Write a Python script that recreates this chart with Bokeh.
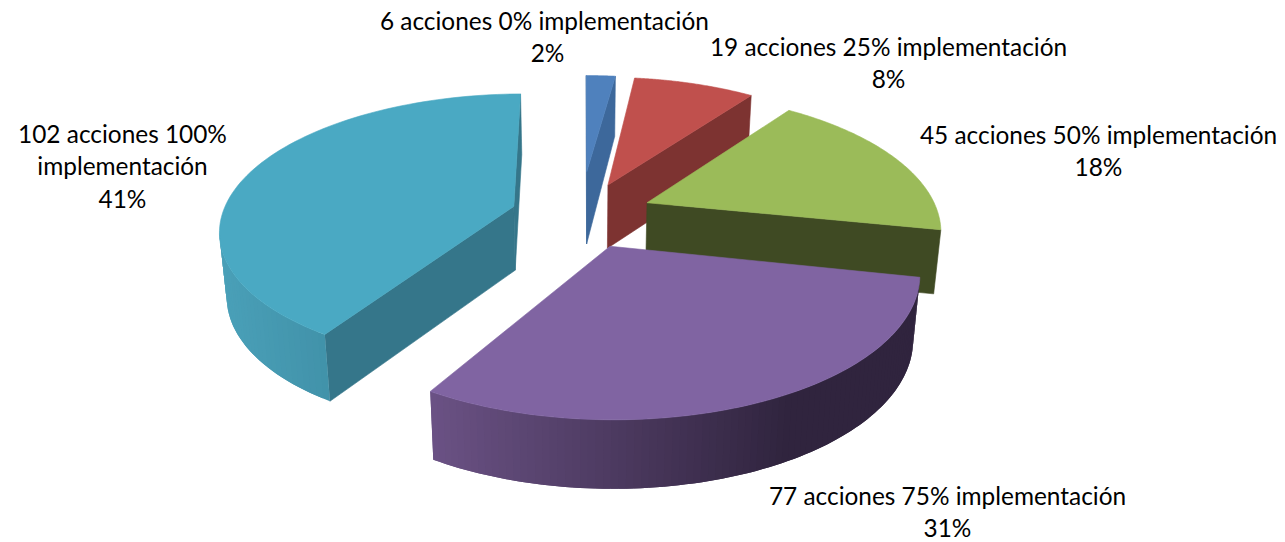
import numpy as np
from bokeh.plotting import figure
from bokeh.models import Range1d
from bokeh.core.properties import value
from bokeh.embed import file_html
from bokeh.resources import INLINE

# --- data ---
acciones = [6, 19, 45, 77, 102]
top_colors = ["#4f81bd", "#c0504d", "#9bbb59", "#8064a2", "#4aa9c3"]
cut_colors = ["#3d689b", "#7d3331", "#3f4a23", "#4d3c62", "#35768a"]
wall_left = ["#3d689b", "#8a3a38", "#5a6e33", "#6b5285", "#4aa0b8"]
wall_right = ["#3d689b", "#7d3331", "#3f4a23", "#30243e", "#38849b"]
label_lines = [
    ["6 acciones 0%  implementación", "2%"],
    ["19 acciones 25% implementación", "8%"],
    ["45 acciones 50% implementación", "18%"],
    ["77 acciones 75% implementación", "31%"],
    ["102 acciones 100%", "implementación", "41%"],
]
label_x = [547, 888, 1098, 947, 122]
label_y = [20, 46, 134, 495, 133]
draw_order = [4, 0, 1, 2, 3]

# --- projection of the tilted pie ---
CX, CY_RIM, CY_APEX = 581.0, 225.0, 215.0
K, P, R, EXPLODE, DEPTH, SHRINK = 0.46, 0.00037, 300.0, 71.0, 64.0, 0.98
CAM_Y = -1.0 / P
# small per-slice corrections to the ideal projection (start, end of each slice)
turn_start = [0.0, -2.2, -2.6, -3.0, 2.7]
turn_end = [-2.2, -2.6, -4.5, 0.0, 0.0]
radius_start = [0.98, 0.98, 0.98, 1.0, 0.97]
radius_end = [0.98, 0.98, 0.98, 1.0, 1.0]
apex_shift = [-12.0, -1.0, -1.0, 0.0, 0.0]
apex_depth = [9.0, 0.0, 0.0, 0.0, 0.0]


def proj(X, Y, y0):
    X, Y = np.asarray(X, float), np.asarray(Y, float)
    f = 1.0 / (1.0 + P * Y)
    return CX + X * f, y0 - K * Y * f, f


def lower(sx, sy, f):
    return CX + (sx - CX) * SHRINK, sy + DEPTH * (0.5 + 0.5 * f)


total = sum(acciones)
bounds = np.concatenate([[0.0], np.cumsum(acciones) / total * 2 * np.pi])

xs_all, ys_all, fills, line_alphas = [], [], [], []


def add(xs, ys, c, stroke=1.0):
    xs_all.append(list(map(float, xs)))
    ys_all.append(list(map(float, ys)))
    fills.append(c)
    line_alphas.append(stroke)


def mix(a, b, t):
    ca = [int(a[i:i + 2], 16) for i in (1, 3, 5)]
    cb = [int(b[i:i + 2], 16) for i in (1, 3, 5)]
    return "#%02x%02x%02x" % tuple(int(round(u + (v - u) * t)) for u, v in zip(ca, cb))


for i in draw_order:
    a0, a1 = bounds[i], bounds[i + 1]
    mid = (a0 + a1) / 2
    ox, oy = EXPLODE * np.sin(mid), EXPLODE * np.cos(mid)
    th = np.linspace(a0, a1, 90)
    u = np.linspace(0, 1, 90)
    wt = th + np.radians(turn_start[i] + (turn_end[i] - turn_start[i]) * u)
    rr = R * (radius_start[i] + (radius_end[i] - radius_start[i]) * u)
    X = ox + rr * np.sin(wt)
    Y = oy + R * np.cos(wt) * (rr / R if i == 4 else 1.0)
    sx, sy, f = proj(X, Y, CY_RIM)
    lx, ly = lower(sx, sy, f)
    ax, ay, af = proj(ox, oy, CY_APEX + apex_shift[i])
    alx, aly = lower(ax, ay, af)
    aly = aly + apex_depth[i]

    # cut faces that look at the viewer
    for end, sign in ((0, -1.0), (-1, 1.0)):
        nx, ny = sign * np.cos(wt[end]), -sign * np.sin(wt[end])
        if (0 - ox) * nx + (CAM_Y - oy) * ny > 0:
            add([ax, sx[end], lx[end], alx], [ay, sy[end], ly[end], aly], cut_colors[i])

    # outer rim, shaded from left to right; each piece runs under the next so no seam shows
    span = max(sx.max() - sx.min(), 1.0)
    n = len(th)
    for j in range(n - 1):
        m = (wt[j] + wt[j + 1]) / 2
        px, py = ox + R * np.sin(m), oy + R * np.cos(m)
        if (0 - px) * np.sin(m) + (CAM_Y - py) * np.cos(m) > 0:
            t = float(np.clip((sx[j] - sx.min()) / span * 1.35, 0, 1))
            e = min(j + 2, n - 1)
            idx = list(range(j, e + 1))
            add(np.r_[sx[idx], lx[idx][::-1]], np.r_[sy[idx], ly[idx][::-1]],
                mix(wall_left[i], wall_right[i], t), 0.0)

    # top face
    add(np.r_[ax, sx], np.r_[ay, sy], top_colors[i])

p = figure(width=1285, height=542, x_range=Range1d(0, 1285), y_range=Range1d(542, 0),
           toolbar_location=None, output_backend="svg", min_border=0,
           x_axis_location=None, y_axis_location=None, outline_line_color=None,
           background_fill_color="white", border_fill_color="white")
p.grid.visible = False
p.patches(xs_all, ys_all, fill_color=fills, line_color=fills, line_alpha=line_alphas, line_width=0.6)

tx, ty, tt = [], [], []
for lines, x0, y0 in zip(label_lines, label_x, label_y):
    for n, line in enumerate(lines):
        tx.append(x0)
        ty.append(y0 + n * 32.3)
        tt.append(line)
p.text(tx, ty, text=tt, text_font=value("Lato"), text_font_size="24.4px", text_color="#000000",
       text_align="center", text_baseline="middle")

open("out.html", "w").write(file_html(p, INLINE))
